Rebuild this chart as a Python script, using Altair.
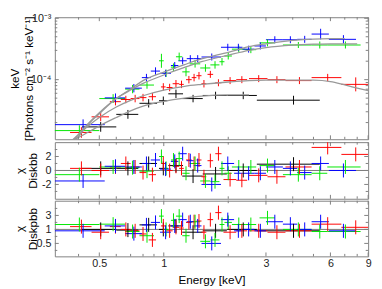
import altair as alt
import pandas as pd

series_names = ["black", "red", "green", "blue"]
series_colors = ["#000000", "#ff0000", "#00e600", "#0000ff"]

# bins: (E_lo [keV], E_hi [keV], flux [keV Photons cm^-2 s^-1 keV^-1], rel. error, chi Diskbb, chi Diskpbb)
black_bins = [
    (0.415, 0.60, 1.70e-5, 0.20, 0.3, 0.0),
    (0.60, 0.76, 2.72e-5, 0.18, 0.3, -0.1),
    (0.77, 0.93, 4.12e-5, 0.17, 1.0, 0.65),
    (0.95, 1.04, 4.54e-5, 0.17, 0.3, 0.0),
    (1.05, 1.23, 5.88e-5, 0.17, 0.7, 0.5),
    (1.22, 1.52, 4.92e-5, 0.15, -0.8, -0.4),
    (1.52, 1.97, 5.53e-5, 0.15, -0.5, -0.2),
    (1.98, 2.72, 5.53e-5, 0.15, 0.0, 0.0),
    (2.72, 5.35, 4.63e-5, 0.18, 0.9, -0.2),
]
red_bins = [
    (0.365, 0.46, 1.38e-5, 0.22, 0.3, 0.4),
    (0.46, 0.555, 2.48e-5, 0.18, 0.0, -0.4),
    (0.56, 0.63, 4.38e-5, 0.15, 0.5, 0.4),
    (0.63, 0.70, 4.75e-5, 0.15, 1.0, 0.0),
    (0.70, 0.77, 4.92e-5, 0.15, 0.5, -0.2),
    (0.77, 0.83, 5.10e-5, 0.15, -0.3, -0.65),
    (0.85, 0.92, 5.28e-5, 0.15, -0.6, -1.5),
    (0.97, 1.02, 7.62e-5, 0.15, 1.0, 0.5),
    (1.03, 1.10, 7.45e-5, 0.15, 0.0, -0.2),
    (1.10, 1.18, 8.59e-5, 0.15, 0.6, 0.3),
    (1.18, 1.24, 8.38e-5, 0.15, 0.3, 0.2),
    (1.27, 1.35, 1.00e-4, 0.15, 1.5, 1.0),
    (1.35, 1.42, 1.08e-4, 0.15, 1.0, 1.1),
    (1.42, 1.50, 1.16e-4, 0.15, 1.5, 1.2),
    (1.50, 1.58, 8.59e-5, 0.15, -0.9, -0.4),
    (1.60, 1.70, 1.22e-4, 0.14, 1.4, 1.4),
    (1.74, 1.86, 8.90e-5, 0.14, 2.4, 2.4),
    (1.90, 2.18, 9.66e-5, 0.14, -1.3, -0.4),
    (2.18, 2.45, 1.00e-4, 0.14, -1.4, -0.2),
    (2.50, 3.05, 1.04e-4, 0.14, -0.7, -0.2),
    (3.05, 3.70, 1.00e-4, 0.14, -0.9, -0.4),
    (3.70, 4.90, 9.66e-5, 0.14, 0.5, -0.2),
    (4.90, 6.75, 1.08e-4, 0.15, 3.3, 0.75),
    (6.75, 9.00, 8.38e-5, 0.30, 2.3, 0.3),
]
green_bins = [
    (0.307, 0.50, 1.48e-5, 0.22, -0.6, 0.7),
    (0.50, 0.66, 4.92e-5, 0.18, 0.5, 0.75),
    (0.66, 0.77, 7.02e-5, 0.17, 0.4, -0.3),
    (0.77, 0.90, 8.17e-5, 0.15, -0.1, -0.9),
    (0.95, 1.00, 2.03e-4, 0.30, 2.0, 1.9),
    (1.00, 1.05, 1.27e-4, 0.15, 0.3, 0.0),
    (1.08, 1.14, 1.60e-4, 0.15, 1.5, 1.3),
    (1.14, 1.22, 2.36e-4, 0.17, 1.7, 1.9),
    (1.22, 1.32, 1.34e-4, 0.18, -0.4, -0.9),
    (1.32, 1.48, 1.81e-4, 0.15, 1.0, 1.1),
    (1.48, 1.65, 1.55e-4, 0.15, -1.5, -1.7),
    (1.65, 1.82, 1.74e-4, 0.15, -1.6, -1.5),
    (1.82, 1.92, 1.96e-4, 0.15, 0.3, 0.7),
    (1.92, 2.08, 2.43e-4, 0.14, -0.4, 1.0),
    (2.08, 2.40, 3.14e-4, 0.14, 0.5, 0.7),
    (2.40, 2.70, 3.08e-4, 0.14, 0.5, 0.7),
    (2.80, 3.30, 3.98e-4, 0.14, 0.7, 1.65),
    (3.60, 4.90, 3.67e-4, 0.12, -0.6, 0.0),
    (4.90, 5.80, 3.67e-4, 0.14, -0.4, -0.3),
    (5.80, 8.30, 3.67e-4, 0.14, 0.5, -0.3),
]
blue_bins = [
    (0.31, 0.53, 1.85e-5, 0.22, -1.5, -0.2),
    (0.53, 0.66, 5.05e-5, 0.18, 0.6, 0.5),
    (0.66, 0.79, 7.27e-5, 0.17, 0.5, -0.6),
    (0.79, 0.87, 1.08e-4, 0.15, 1.0, 0.65),
    (0.87, 0.96, 1.38e-4, 0.15, 1.5, 1.0),
    (0.96, 1.08, 1.27e-4, 0.14, 0.2, -0.4),
    (1.08, 1.17, 1.70e-4, 0.14, 1.3, 0.5),
    (1.17, 1.28, 2.03e-4, 0.14, 2.4, 1.4),
    (1.28, 1.38, 2.20e-4, 0.14, 1.4, 1.1),
    (1.38, 1.50, 2.20e-4, 0.14, 0.7, 0.5),
    (1.50, 1.85, 2.34e-4, 0.14, -2.0, -2.0),
    (1.85, 2.13, 3.37e-4, 0.14, 1.0, 1.4),
    (2.13, 2.33, 3.37e-4, 0.14, -0.4, -0.2),
    (2.33, 2.65, 3.14e-4, 0.14, -0.4, 0.0),
    (2.65, 3.00, 3.54e-4, 0.14, -0.4, -0.2),
    (3.00, 3.60, 4.47e-4, 0.14, 0.5, 1.1),
    (3.60, 4.20, 4.47e-4, 0.14, 0.3, 0.75),
    (4.20, 4.90, 4.54e-4, 0.14, -0.3, 0.0),
    (4.90, 5.90, 5.53e-4, 0.22, 1.0, 1.1),
    (5.90, 7.90, 4.54e-4, 0.17, 0.0, -0.2),
]

# chi residuals have unit error by definition
CHI_ERR = 1.0

model_energy = [0.35, 0.4, 0.45, 0.5, 0.6, 0.7, 0.8, 1.0, 1.25, 1.5, 2.0, 2.5, 3.0, 4.0, 5.0, 6.0, 7.0, 8.0, 9.0]
model_black = [9.3e-6, 1.15e-5, 1.43e-5, 1.76e-5, 2.42e-5, 3.11e-5, 3.71e-5, 4.43e-5, 5.01e-5, 5.38e-5, 5.67e-5, 5.67e-5, None, None, None, None, None, None, None]
model_red = [8.4e-6, 1.28e-5, 1.83e-5, 2.42e-5, 3.58e-5, 4.59e-5, 5.47e-5, 6.77e-5, 7.80e-5, 8.38e-5, 9.16e-5, 9.66e-5, 9.82e-5, 9.82e-5, 9.8e-5, 9.3e-5, 8.2e-5, 7.3e-5, 6.6e-5]
model_green = [7.5e-6, 1.28e-5, 2.03e-5, 2.90e-5, 4.92e-5, 6.77e-5, 8.68e-5, 1.19e-4, 1.58e-4, 1.96e-4, 2.51e-4, 3.00e-4, 3.33e-4, 3.65e-4, 3.78e-4, 3.84e-4, 3.84e-4, 3.84e-4, None]
model_blue = [7.0e-6, 1.19e-5, 1.96e-5, 2.79e-5, 4.92e-5, 7.02e-5, 9.66e-5, 1.33e-4, 1.76e-4, 2.18e-4, 2.79e-4, 3.45e-4, 3.84e-4, 4.35e-4, 4.59e-4, 4.67e-4, 4.67e-4, None, None]

x_tick_labels = [0.5, 1, 3, 6, 9]
x_minor_ticks = [0.4, 0.6, 0.7, 0.8, 0.9, 2, 4, 5, 7, 8]
flux_tick_labels = [1e-4, 1e-3]
flux_minor_ticks = [2e-5, 3e-5, 4e-5, 5e-5, 6e-5, 7e-5, 8e-5, 9e-5,
                    2e-4, 3e-4, 4e-4, 5e-4, 6e-4, 7e-4, 8e-4, 9e-4]
chi_tick_labels = [-2, 0, 2]
chi_minor_ticks = [-3, -1, 1, 3]

# ---------- tables ----------
rows = []
for name, bins in zip(series_names, [black_bins, red_bins, green_bins, blue_bins]):
    for lo, hi, f, err, c1, c2 in bins:
        rows.append(dict(series=name, e_lo=lo, e_hi=hi, e=(lo + hi) / 2,
                         f=f, f_lo=f / (1 + err), f_hi=f * (1 + err),
                         c1=c1, c1_lo=c1 - CHI_ERR, c1_hi=c1 + CHI_ERR,
                         c2=c2, c2_lo=c2 - CHI_ERR, c2_hi=c2 + CHI_ERR))
df = pd.DataFrame(rows)

mrows = []
for name, vals in zip(series_names, [model_black, model_red, model_green, model_blue]):
    for e, v in zip(model_energy, vals):
        if v is not None:
            mrows.append(dict(series=name, e=e, f=v))
mdf = pd.DataFrame(mrows)

W = 321
H_TOP, H_MID, H_BOT = 125, 58, 57
GRAY = "#808080"
FONT = "Liberation Sans"

xscale = alt.Scale(type="log", domain=[0.31, 9.0], nice=False)
fscale = alt.Scale(type="log", domain=[1.07e-5, 1.04e-3], nice=False)
c1scale = alt.Scale(domain=[-4.05, 4.05], nice=False, zero=False)
c2scale = alt.Scale(domain=[-3.85, 4.1], nice=False, zero=False)
color_enc = alt.Color("series:N", scale=alt.Scale(domain=series_names, range=series_colors), legend=None)

x_axis_bottom = alt.Axis(values=x_tick_labels, labelExpr="format(datum.value, '~g')",
                         title="Energy [keV]", labelPadding=1, titlePadding=7,
                         labelFlush=False, labelOverlap=False)

ax_top = alt.Axis(values=flux_tick_labels,
                  labelExpr="datum.value < 5e-4 ? '10⁻⁴' : '10⁻³'",
                  title=["keV", "[Photons cm⁻² s⁻¹ keV⁻¹]"],
                  titleX=-37, titleY=H_TOP / 2, titleAngle=270, titleAlign="center",
                  titleBaseline="alphabetic", titleLineHeight=14, labelPadding=4)
ax_mid = alt.Axis(values=chi_tick_labels,
                  labelExpr="datum.value > 0 ? '2' : (datum.value < 0 ? '-2' : '0')",
                  title=["χ", "Diskbb"],
                  titleX=-32.5, titleY=H_MID / 2, titleAngle=270, titleAlign="center",
                  titleBaseline="alphabetic", titleLineHeight=13.5, labelPadding=4)
ax_bot = alt.Axis(values=chi_tick_labels,
                  labelExpr="datum.value > 0 ? '3' : (datum.value < 0 ? '0.5' : '1')",
                  title=["χ", "Diskpbb"],
                  titleX=-32.5, titleY=H_BOT / 2, titleAngle=270, titleAlign="center",
                  titleBaseline="alphabetic", titleLineHeight=13.5, labelPadding=4)


def x_ticks(H, xaxis):
    layers = []
    for vals, ln in [(x_tick_labels, 4), (x_minor_ticks, 2.5)]:
        d = pd.DataFrame({"t": vals})
        for y0, y1 in [(0, ln), (H - ln, H)]:
            layers.append(alt.Chart(d).mark_rule(color=GRAY, strokeWidth=1).encode(
                x=alt.X("t:Q", scale=xscale, axis=xaxis),
                y=alt.value(y0), y2=alt.value(y1)))
    return layers


def y_ticks(major, minor, yscale, yaxis):
    layers = []
    for vals, ln in [(major, 4), (minor, 2.5)]:
        d = pd.DataFrame({"t": vals})
        for x0, x1 in [(0, ln), (W - ln, W)]:
            layers.append(alt.Chart(d).mark_rule(color=GRAY, strokeWidth=1).encode(
                y=alt.Y("t:Q", scale=yscale, axis=yaxis),
                x=alt.value(x0), x2=alt.value(x1)))
    return layers


def data_panel(yfield, ylo, yhi, yscale, yaxis, xaxis, H, model=False, zero_line=False,
               major=None, minor=None):
    base = alt.Chart(df)
    layers = []
    if zero_line:
        layers.append(alt.Chart(pd.DataFrame({"z": [0]})).mark_rule(color="#777777", strokeWidth=1).encode(
            y=alt.Y("z:Q", scale=yscale, axis=yaxis)))
    layers.append(base.mark_rule(strokeWidth=1, clip=True).encode(
        x=alt.X("e_lo:Q", scale=xscale, axis=xaxis), x2="e_hi:Q",
        y=alt.Y(f"{yfield}:Q", scale=yscale, axis=yaxis), color=color_enc))
    layers.append(base.mark_rule(strokeWidth=1, clip=True).encode(
        x=alt.X("e:Q", scale=xscale, axis=xaxis),
        y=alt.Y(f"{ylo}:Q", scale=yscale, axis=yaxis), y2=f"{yhi}:Q", color=color_enc))
    if model:
        layers.append(alt.Chart(mdf).mark_line(color="#999999", strokeWidth=1.3, clip=True,
                                               interpolate="monotone").encode(
            x=alt.X("e:Q", scale=xscale, axis=xaxis),
            y=alt.Y("f:Q", scale=yscale, axis=yaxis), detail="series:N"))
    layers += x_ticks(H, xaxis)
    layers += y_ticks(major, minor, yscale, yaxis)
    return alt.layer(*layers).properties(width=W, height=H)


top = data_panel("f", "f_lo", "f_hi", fscale, ax_top, None, H_TOP, model=True,
                 major=flux_tick_labels, minor=flux_minor_ticks)
mid = data_panel("c1", "c1_lo", "c1_hi", c1scale, ax_mid, None, H_MID, zero_line=True,
                 major=chi_tick_labels, minor=chi_minor_ticks)
bot = data_panel("c2", "c2_lo", "c2_hi", c2scale, ax_bot, x_axis_bottom, H_BOT, zero_line=True,
                 major=chi_tick_labels, minor=chi_minor_ticks)

chart = alt.vconcat(top, mid, bot, spacing=0).properties(
    padding={"left": 0, "top": 0, "right": 2, "bottom": 0}
).configure_view(stroke=GRAY, strokeWidth=1).configure_axis(
    grid=False, domain=False, ticks=False,
    labelFont=FONT, labelFontSize=11, labelColor="#222222",
    titleFont=FONT, titleFontSize=12, titleFontWeight="normal", titleColor="#000000"
)

chart.save("out.html", embed_options={"renderer": "svg", "actions": False})
